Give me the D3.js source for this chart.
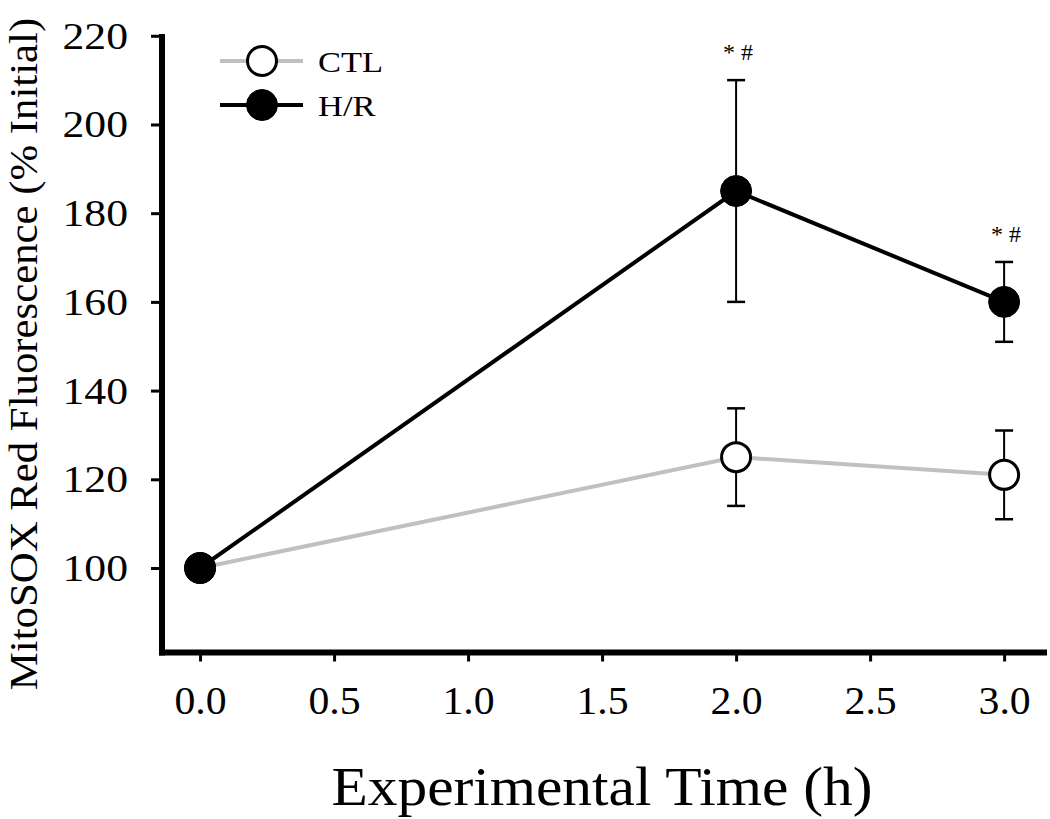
<!DOCTYPE html>
<html>
<head>
<meta charset="utf-8">
<script src="https://cdn.jsdelivr.net/npm/d3@7"></script>
<style>
  html, body { margin: 0; padding: 0; background: #fff; }
  svg { display: block; font-family: "Liberation Serif", "Times New Roman", serif; }
</style>
</head>
<body>
<svg id="chart" width="1050" height="819"></svg>
<script>
// ---- data ----
const times = [0, 2, 3];
const ctlMean = [100, 125, 121];
const ctlErr = [0, 11, 10];
const hrMean = [100, 185, 160];
const hrErr = [0, 25, 9];
const annotations = [{t: 2, text: "* #"}, {t: 3, text: "* #"}];
const xTicks = [0, 0.5, 1.0, 1.5, 2.0, 2.5, 3.0];
const yTicks = [100, 120, 140, 160, 180, 200, 220];
const seriesNames = ["CTL", "H/R"];

const svg = d3.select("#chart");
const x = d3.scaleLinear().domain([-0.142, 3.16]).range([162, 1047]);
const y = d3.scaleLinear().domain([80.95, 220.4]).range([652.5, 34]);

// axes
const xAxis = d3.axisBottom(x).tickValues(xTicks).tickFormat(d3.format(".1f")).tickSize(9).tickPadding(25).tickSizeOuter(0);
const yAxis = d3.axisLeft(y).tickValues(yTicks).tickFormat(d3.format("d")).tickSize(11).tickPadding(23).tickSizeOuter(0);

const gx = svg.append("g").attr("transform", `translate(0,${y.range()[0]})`).call(xAxis);
const gy = svg.append("g").attr("transform", `translate(${x.range()[0]},0)`).call(yAxis);
[gx, gy].forEach(g => {
  g.select(".domain").attr("stroke", "#000").attr("stroke-width", 6);
  g.selectAll(".tick line").attr("stroke", "#000").attr("stroke-width", 3);
  g.selectAll(".tick text").attr("fill", "#000").style("font-family", "Liberation Serif").style("font-size", "39px");
});
gx.selectAll(".tick text").attr("transform", "scale(1.07,1)");
gy.selectAll(".tick text").attr("transform", "translate(-34,0) scale(1.12,1) translate(34,0)");
gx.select(".domain").attr("d", `M${x.range()[0]-3},0H${x.range()[1]}`);
gy.select(".domain").attr("d", `M0,${y.range()[1]}V${y.range()[0]+3}`);

// axis titles
svg.append("text").attr("transform", "translate(602,805) scale(1.08,1)").attr("text-anchor", "middle")
  .style("font-size", "55px").attr("fill", "#000").text("Experimental Time (h)");
svg.append("text").attr("transform", "translate(37,354) rotate(-90) scale(1.07,1)").attr("text-anchor", "middle")
  .style("font-size", "40px").attr("fill", "#000").text("MitoSOX Red Fluorescence (% Initial)");

const line = d3.line().x(d => x(d.t)).y(d => y(d.v));
const ctl = times.map((t, i) => ({t, v: ctlMean[i], e: ctlErr[i]}));
const hr = times.map((t, i) => ({t, v: hrMean[i], e: hrErr[i]}));

function errorBars(data) {
  const g = svg.append("g");
  data.filter(d => d.e > 0).forEach(d => {
    const cx = x(d.t);
    g.append("line").attr("x1", cx).attr("x2", cx).attr("y1", y(d.v + d.e)).attr("y2", y(d.v - d.e))
      .attr("stroke", "#000").attr("stroke-width", 2);
    [d.v + d.e, d.v - d.e].forEach(v => {
      g.append("line").attr("x1", cx - 9).attr("x2", cx + 9).attr("y1", y(v)).attr("y2", y(v))
        .attr("stroke", "#000").attr("stroke-width", 2.5);
    });
  });
}
errorBars(ctl);
errorBars(hr);

svg.append("path").datum(ctl).attr("d", line).attr("fill", "none").attr("stroke", "#c0c0c0").attr("stroke-width", 4);
svg.append("g").selectAll("circle").data(ctl).join("circle")
  .attr("cx", d => x(d.t)).attr("cy", d => y(d.v)).attr("r", 14.5)
  .attr("fill", "#fff").attr("stroke", "#000").attr("stroke-width", 3);

svg.append("path").datum(hr).attr("d", line).attr("fill", "none").attr("stroke", "#000").attr("stroke-width", 4);
svg.append("g").selectAll("circle").data(hr).join("circle")
  .attr("cx", d => x(d.t)).attr("cy", d => y(d.v)).attr("r", 15.5)
  .attr("fill", "#000").attr("stroke", "#000").attr("stroke-width", 1);

// annotations
annotations.forEach(a => {
  const i = times.indexOf(a.t);
  svg.append("text").attr("x", x(a.t) + 2).attr("y", y(hrMean[i] + hrErr[i]) - 20)
    .attr("text-anchor", "middle").style("font-size", "24px").attr("fill", "#000").text(a.text);
});

// legend
const leg = svg.append("g");
const legY = [61, 105];
const legStroke = ["#c0c0c0", "#000"];
const legFill = ["#fff", "#000"];
seriesNames.forEach((name, i) => {
  leg.append("line").attr("x1", 220).attr("x2", 303).attr("y1", legY[i]).attr("y2", legY[i])
    .attr("stroke", legStroke[i]).attr("stroke-width", 4);
  leg.append("circle").attr("cx", 262).attr("cy", legY[i]).attr("r", i === 0 ? 14.5 : 15.5)
    .attr("fill", legFill[i]).attr("stroke", "#000").attr("stroke-width", i === 0 ? 3 : 1);
  leg.append("text").attr("transform", `translate(318,${legY[i] + 11}) scale(1.15,1)`)
    .style("font-size", "30px").attr("fill", "#000").text(name);
});
</script>
</body>
</html>
